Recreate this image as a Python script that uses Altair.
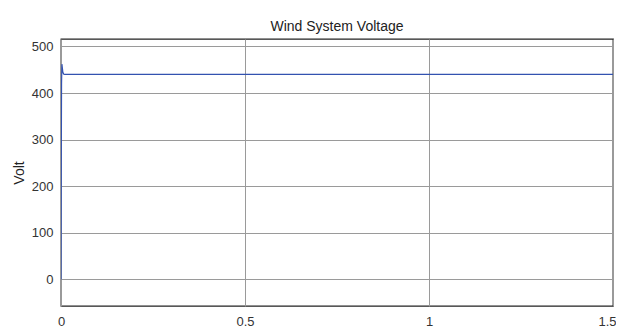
import altair as alt
import pandas as pd

time = [0.0, 0.0008, 0.0015, 0.0025, 0.0035, 0.005, 0.007, 0.01, 0.05, 0.3, 0.6, 0.9, 1.2, 1.5]
volt = [0.0, 250.0, 420.0, 462.0, 455.0, 445.0, 441.0, 440.0, 440.0, 440.0, 440.0, 440.0, 440.0, 440.0]
x_ticks = [0, 0.5, 1, 1.5]
y_ticks = [0, 100, 200, 300, 400, 500]

df = pd.DataFrame({"t": time, "v": volt})

line = alt.Chart(df).mark_line(color="#3352b0", strokeWidth=1.2, clip=True).encode(
    x=alt.X("t:Q", scale=alt.Scale(domain=[0, 1.5], nice=False, zero=False),
            axis=alt.Axis(values=x_ticks, title=None, grid=True, gridColor="#9a9a9a",
                          gridWidth=1, domain=False, ticks=False, labelFont="Liberation Sans",
                          labelFontSize=13, labelColor="#333", labelPadding=9,
                          format="~g", labelFlush=False,
                          labelAlign={"condition": {"test": "datum.value == 1.5", "value": "right"},
                                      "value": "center"},
                          labelOffset={"condition": {"test": "datum.value == 1.5", "value": 3},
                                       "value": 0})),
    y=alt.Y("v:Q", scale=alt.Scale(domain=[-57, 516], nice=False, zero=False),
            axis=alt.Axis(values=y_ticks, title="Volt", grid=True, gridColor="#9a9a9a",
                          gridWidth=1, domain=False, ticks=False, labelFont="Liberation Sans",
                          labelFontSize=13, labelColor="#333", labelPadding=8,
                          titleFont="Liberation Sans", titleFontSize=14, titleFontWeight="normal",
                          titleColor="#222", titlePadding=5, labelFlush=False)),
)

chart = line.properties(
    width=552, height=267,
    title=alt.Title("Wind System Voltage", font="Liberation Sans", fontSize=14,
                    fontWeight="normal", color="#222", offset=5),
    autosize=alt.AutoSizeParams(type="none"),
    padding={"left": 53, "top": 31, "right": 3, "bottom": 22},
    background="white",
).configure_view(stroke="#222", strokeWidth=1.3)

chart.save("out.html", embed_options={"renderer": "svg", "actions": False})
